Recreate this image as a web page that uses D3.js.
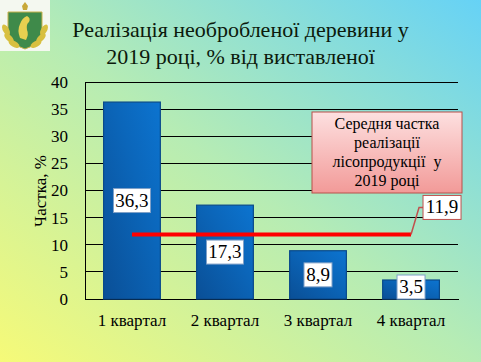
<!DOCTYPE html>
<html>
<head>
<meta charset="utf-8">
<style>
  html, body { margin: 0; padding: 0; }
  body { width: 481px; height: 362px; overflow: hidden; }
  #chart { position: relative; width: 481px; height: 362px; }
  #chart svg { position: absolute; left: 0; top: 0; }
  .title { position: absolute; left: 0; top: 16px; width: 481px; text-align: center;
           font-family: 'Liberation Serif', serif; font-size: 22px; line-height: 27px; color: #0c1a0c; }
</style>
</head>
<body>
<div id="chart"></div>
<script src="https://cdn.jsdelivr.net/npm/d3@7/dist/d3.min.js"></script>
<script>
var width = 481, height = 362;
var serif = 'Liberation Serif';

// data
var quarters = ['1 квартал', '2 квартал', '3 квартал', '4 квартал'];
var shares = [36.3, 17.3, 8.9, 3.5];
var average = 11.9;
var yTicks = [0, 5, 10, 15, 20, 25, 30, 35, 40];
var titleLines = ['Реалізація необробленої деревини у', '2019 році, % від виставленої'];
var calloutLines = ['Середня частка', 'реалізації', 'лісопродукції  у', '2019 році'];

var ua = d3.formatLocale({decimal: ',', thousands: ' ', grouping: [3], currency: ['', '']});
var fmt = ua.format('.1f');

var root = d3.select('#chart');
var svg = root.append('svg')
    .attr('width', width)
    .attr('height', height)
    .attr('font-family', serif);

var defs = svg.append('defs');

var bg = defs.append('linearGradient').attr('id', 'bg')
    .attr('x1', 0).attr('y1', 1).attr('x2', 1).attr('y2', 0);
bg.append('stop').attr('offset', '0%').attr('stop-color', '#f6fa78');
bg.append('stop').attr('offset', '50%').attr('stop-color', '#b6ecb4');
bg.append('stop').attr('offset', '100%').attr('stop-color', '#66d2f6');

var barGrad = defs.append('linearGradient').attr('id', 'bar')
    .attr('x1', 0).attr('y1', 1).attr('x2', 1).attr('y2', 0);
barGrad.append('stop').attr('offset', '0%').attr('stop-color', '#0a4f96');
barGrad.append('stop').attr('offset', '60%').attr('stop-color', '#0b66ba');
barGrad.append('stop').attr('offset', '100%').attr('stop-color', '#0c74d0');

var pink = defs.append('linearGradient').attr('id', 'pink')
    .attr('x1', 0).attr('y1', 0).attr('x2', 0).attr('y2', 1);
pink.append('stop').attr('offset', '0%').attr('stop-color', '#fde0e0');
pink.append('stop').attr('offset', '100%').attr('stop-color', '#f29a98');

svg.append('rect').attr('width', width).attr('height', height).attr('fill', 'url(#bg)');

// logo
var logo = svg.append('g');
logo.append('rect').attr('x', 0).attr('y', 0).attr('width', 50).attr('height', 51).attr('fill', '#f4f8f0');
logo.append('path')
    .attr('d', 'M8,12 L42,12 L42,30 Q42,44 25,49 Q8,44 8,30 Z')
    .attr('fill', '#3f8a4a').attr('stroke', '#c8b24a').attr('stroke-width', 1);
logo.append('path').attr('d', 'M22,6 L25,2 L28,6 L27,10 L23,10 Z').attr('fill', '#c8a838');
logo.append('path')
    .attr('d', 'M20,38 Q17,30 20,24 Q22,18 27,16 Q31,18 29,22 Q26,24 27,30 Q29,34 26,40 Z')
    .attr('fill', '#e8d050');
[[6, 30, -30], [9, 38, -45], [14, 44, -60], [44, 30, 30], [41, 38, 45], [36, 44, 60]].forEach(function(p) {
    logo.append('ellipse').attr('cx', p[0]).attr('cy', p[1]).attr('rx', 3).attr('ry', 6)
        .attr('transform', 'rotate(' + p[2] + ',' + p[0] + ',' + p[1] + ')')
        .attr('fill', '#d8c040');
});

// title (html, to get the serif face)
root.append('div').attr('class', 'title')
    .html(titleLines.join('<br>'));

var x = d3.scaleBand()
    .domain(quarters)
    .range([85, 458])
    .paddingInner(0.39)
    .paddingOuter(0.2);

var y = d3.scaleLinear()
    .domain([0, 40])
    .range([299, 82]);

// grid lines
svg.append('g').selectAll('line').data(yTicks).enter().append('line')
    .attr('x1', 85).attr('x2', 458)
    .attr('y1', function(d) { return y(d); })
    .attr('y2', function(d) { return y(d); })
    .attr('stroke', '#000').attr('stroke-width', 1)
    .attr('shape-rendering', 'crispEdges');

// y axis
var yAxis = svg.append('g')
    .attr('transform', 'translate(85,0)')
    .call(d3.axisLeft(y).tickValues(yTicks).tickSize(0).tickPadding(17));
yAxis.attr('font-family', serif).attr('font-size', 17);
yAxis.select('.domain').attr('stroke', '#000').attr('shape-rendering', 'crispEdges');
yAxis.selectAll('text').attr('fill', '#000');

// x axis
var xAxis = svg.append('g')
    .attr('transform', 'translate(0,299)')
    .call(d3.axisBottom(x).tickSize(0).tickPadding(15));
xAxis.attr('font-family', serif).attr('font-size', 17);
xAxis.select('.domain').attr('stroke', '#000').attr('shape-rendering', 'crispEdges');
xAxis.selectAll('text').attr('fill', '#000');

svg.append('text')
    .attr('transform', 'translate(46,191) rotate(-90)')
    .attr('text-anchor', 'middle')
    .attr('font-size', 17)
    .attr('fill', '#000')
    .text('Частка, %');

// bars
svg.append('g').selectAll('rect').data(shares).enter().append('rect')
    .attr('x', function(d, i) { return x(quarters[i]); })
    .attr('y', function(d) { return y(d); })
    .attr('width', x.bandwidth())
    .attr('height', function(d) { return y(0) - y(d); })
    .attr('fill', 'url(#bar)')
    .attr('stroke', '#0a4a8a').attr('stroke-width', 1.2);

// value labels
var lbl = svg.append('g').selectAll('g').data(shares).enter().append('g')
    .attr('transform', function(d, i) {
        var cy = Math.min((y(d) + y(0)) / 2, y(0) - 12);
        return 'translate(' + (x(quarters[i]) + x.bandwidth() / 2) + ',' + cy + ')';
    });
lbl.append('rect')
    .attr('x', function(d) { return d >= 10 ? -18.5 : -14; })
    .attr('y', -12)
    .attr('width', function(d) { return d >= 10 ? 37 : 28; })
    .attr('height', 24)
    .attr('fill', '#fff').attr('stroke', '#7fa0c8');
lbl.append('text')
    .attr('text-anchor', 'middle').attr('y', 6)
    .attr('font-size', 19)
    .attr('fill', '#000')
    .text(function(d) { return fmt(d); });

// average line
var x1 = x(quarters[0]) + x.bandwidth() / 2,
    x2 = x(quarters[3]) + x.bandwidth() / 2;
svg.append('line')
    .attr('x1', x1).attr('x2', x2)
    .attr('y1', y(average)).attr('y2', y(average))
    .attr('stroke', '#ff0000').attr('stroke-width', 4);

// leader + average label
svg.append('path')
    .attr('d', 'M' + x2 + ',' + y(average) + ' L' + (x2 + 8) + ',' + (y(average) - 27) + ' L' + (x2 + 13) + ',' + (y(average) - 27))
    .attr('fill', 'none').attr('stroke', '#c0504d').attr('stroke-width', 1.5);
svg.append('rect')
    .attr('x', x2 + 12).attr('y', y(average) - 39)
    .attr('width', 38).attr('height', 24)
    .attr('fill', '#fff').attr('stroke', '#c0504d');
svg.append('text')
    .attr('x', x2 + 31).attr('y', y(average) - 21)
    .attr('text-anchor', 'middle')
    .attr('font-size', 19)
    .attr('fill', '#000')
    .text(fmt(average));

// callout
svg.append('rect')
    .attr('x', 312).attr('y', 112).attr('width', 150).attr('height', 81)
    .attr('fill', 'url(#pink)').attr('stroke', '#b8504a').attr('stroke-width', 1);
svg.append('text')
    .attr('text-anchor', 'middle')
    .attr('font-size', 16)
    .attr('xml:space', 'preserve')
    .attr('fill', '#000')
    .selectAll('tspan').data(calloutLines).enter().append('tspan')
    .attr('x', 387)
    .attr('y', function(d, i) { return 129 + i * 19; })
    .text(function(d) { return d; });
</script>
</body>
</html>
